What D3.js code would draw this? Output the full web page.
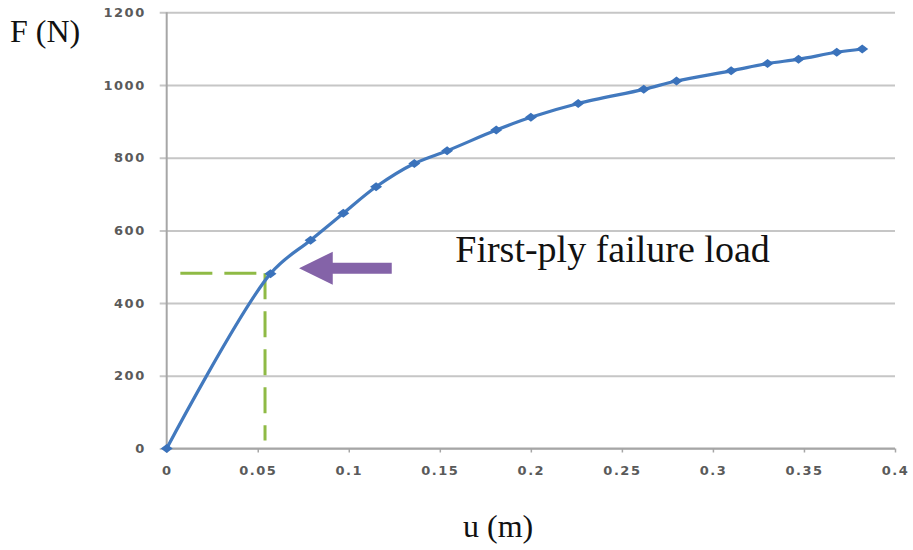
<!DOCTYPE html>
<meta charset="utf-8">
<style>
body { margin: 0; background: #fff; }
.tick text { font: bold 13px "DejaVu Sans", sans-serif; fill: #5a5a5a; letter-spacing: 1.5px; }
.title { font-family: "Liberation Serif", "Times New Roman", serif; fill: #111; }
</style>
<body>
<svg width="913" height="550"></svg>
<script src="https://d3js.org/d3.v7.min.js"></script>
<script>

var u = [0, 0.057, 0.079, 0.097, 0.115, 0.136, 0.154, 0.181, 0.200, 0.226, 0.262, 0.280, 0.310, 0.330, 0.347, 0.368, 0.382];
var F = [0, 481, 573, 647, 720, 784, 819, 876, 911, 949, 988, 1011, 1039, 1059, 1071, 1090, 1099];

var xTicks = [0, 0.05, 0.1, 0.15, 0.2, 0.25, 0.3, 0.35, 0.4];
var xTickLabels = ["0", "0.05", "0.1", "0.15", "0.2", "0.25", "0.3", "0.35", "0.4"];
var yTicks = [0, 200, 400, 600, 800, 1000, 1200];

// first-ply failure marker (dashed guides) and arrow, in data units
var fpfU = 0.054, fpfF = 482;
var guideStartU = 0.0075, guideEndU = 0.057, guideBottomF = 22;
var arrowTipU = 0.0727, arrowHeadU = 0.0912, arrowTailU = 0.1236, arrowF = 496;
var annotation = "First-ply failure load";

var svg = d3.select("svg"),
    margin = {top: 12.3, left: 166.7},
    width = 728.3,
    height = 436.2,
    g = svg.append("g").attr("transform", "translate(" + margin.left + "," + margin.top + ")");

var x = d3.scaleLinear().domain([0, 0.4]).range([0, width]);
var y = d3.scaleLinear().domain([0, 1200]).range([height, 0]);

// horizontal gridlines
g.append("g")
    .call(d3.axisLeft(y).tickValues(yTicks).tickSize(-width).tickFormat(d3.format("d")))
    .call(function(a) {
      a.select(".domain").remove();
      a.selectAll(".tick line").attr("x1", -7).attr("x2", width).attr("stroke", "#c6c6c6").attr("stroke-width", 2);
      a.selectAll(".tick text").attr("x", -21);
    });

// y axis line
g.append("line")
    .attr("x1", 0).attr("x2", 0).attr("y1", 0).attr("y2", height)
    .attr("stroke", "#a6a6a6").attr("stroke-width", 2);

// x axis
g.append("g")
    .attr("transform", "translate(0," + height + ")")
    .call(d3.axisBottom(x).tickValues(xTicks).tickSize(4).tickPadding(13)
      .tickFormat(function(d, i) { return xTickLabels[i]; }))
    .call(function(a) {
      a.select(".domain").attr("stroke", "#a6a6a6").attr("stroke-width", 2).attr("d", "M0,0H" + width);
      a.selectAll(".tick line").attr("stroke", "#a6a6a6").attr("stroke-width", 1.5);
    });

// green dashed guides
var green = "#8fba45";
g.append("line")
    .attr("x1", x(guideStartU)).attr("x2", x(guideEndU))
    .attr("y1", y(fpfF)).attr("y2", y(fpfF))
    .attr("stroke", green).attr("stroke-width", 3).attr("stroke-dasharray", "32,12");
g.append("line")
    .attr("x1", x(fpfU)).attr("x2", x(fpfU))
    .attr("y1", y(fpfF)).attr("y2", y(guideBottomF))
    .attr("stroke", green).attr("stroke-width", 3).attr("stroke-dasharray", "26,12");

// curve
var data = u.map(function(d, i) { return {u: d, F: F[i]}; });
var line = d3.line()
    .x(function(d) { return x(d.u); })
    .y(function(d) { return y(d.F); })
    .curve(d3.curveCatmullRom.alpha(0.5));

g.append("path")
    .datum(data)
    .attr("fill", "none")
    .attr("stroke", "#4279be")
    .attr("stroke-width", 3.2)
    .attr("d", line);

g.selectAll(".pt")
    .data(data)
  .enter().append("path")
    .attr("class", "pt")
    .attr("transform", function(d) { return "translate(" + x(d.u) + "," + y(d.F) + ")"; })
    .attr("d", "M-6,0L0,-4.5L6,0L0,4.5Z")
    .attr("fill", "#3a72bb");

// purple arrow
var ay = y(arrowF);
g.append("path")
    .attr("d", d3.line()([
      [x(arrowTipU), ay],
      [x(arrowHeadU), ay - 16.5],
      [x(arrowHeadU), ay - 5.5],
      [x(arrowTailU), ay - 5.5],
      [x(arrowTailU), ay + 5.5],
      [x(arrowHeadU), ay + 5.5],
      [x(arrowHeadU), ay + 16.5]
    ]) + "Z")
    .attr("fill", "#8463a8");

g.append("text")
    .attr("class", "title")
    .attr("x", x(0.1585)).attr("y", y(512))
    .style("font-size", "38px")
    .text(annotation);

// axis titles
svg.append("text")
    .attr("class", "title")
    .attr("x", 10).attr("y", 42)
    .style("font-size", "32px")
    .text("F (N)");

svg.append("text")
    .attr("class", "title")
    .attr("x", 463).attr("y", 537)
    .style("font-size", "32px")
    .text("u (m)");

</script>
</body>
